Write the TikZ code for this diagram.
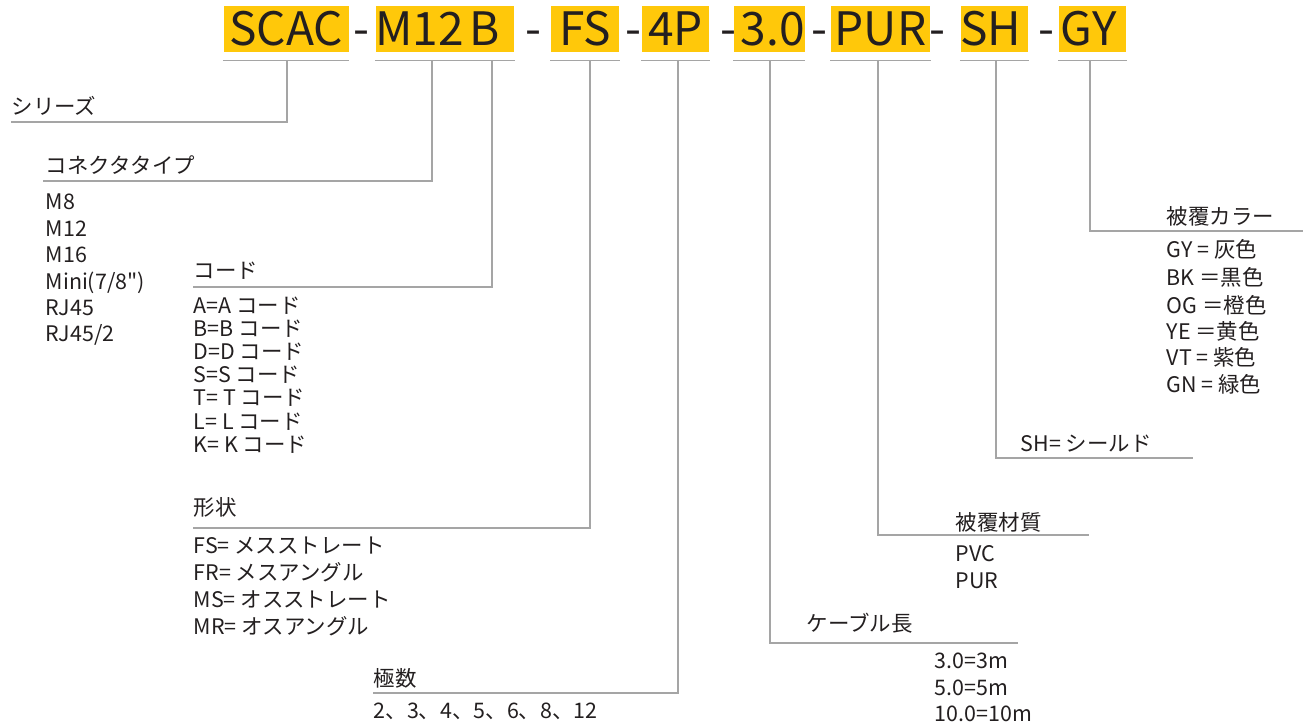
\documentclass[tikz,border=0pt]{standalone}
\usepackage{fontspec}
\setmainfont[Ligatures=TeXOff]{Noto Sans CJK JP}
\usetikzlibrary{calc}
\definecolor{code_yellow}{RGB}{255, 200, 10}
\definecolor{line_grey}{RGB}{165, 165, 165}
\definecolor{txt_dark}{RGB}{35, 31, 32}
\tikzstyle{code}=[rectangle,fill=code_yellow,inner sep=0pt,minimum height=0.46cm,
  text=txt_dark,font=\fontsize{13.1}{13.1}\selectfont,text height=9.4pt,text depth=0pt]
\tikzstyle{hyph}=[inner sep=0pt,anchor=base,text=txt_dark,
  font=\fontsize{13.1}{13.1}\selectfont]
\tikzstyle{lbl}=[inner sep=0pt,anchor=base west,text=txt_dark,
  font=\fontsize{6.1}{6.1}\selectfont]
\tikzstyle{wire}=[draw=line_grey,line width=0.42pt]
\tikzstyle{none}=[]

\begin{document}
\begin{tikzpicture}
		\useasboundingbox (0, 0) rectangle (13.11, -7.28);
		% part number
		\node [style=code, minimum width=1.25cm] (0) at (2.861, -0.29) {SCAC};
		\node [style=code, minimum width=0.897cm] (1) at (4.2375, -0.29) {M12\kern0.08cm};
		\node [style=code, minimum width=0.418cm] (2) at (4.92, -0.29) {B\kern0.14cm};
		\node [style=code, minimum width=0.68cm] (3) at (5.85, -0.29) {FS};
		\node [style=code, minimum width=0.672cm] (4) at (6.757, -0.29) {4P};
		\node [style=code, minimum width=0.683cm] (5) at (7.692, -0.29) {\kern0.07cm3.0};
		\node [style=code, minimum width=0.99cm] (6) at (8.805, -0.29) {PUR};
		\node [style=code, minimum width=0.67cm] (7) at (9.945, -0.29) {SH\kern0.07cm};
		\node [style=code, minimum width=0.67cm] (8) at (10.925, -0.29) {GY\kern0.08cm};
		\node [style=hyph] (9) at (3.618, -0.455) {-};
		\node [style=hyph] (10) at (5.33, -0.455) {-};
		\node [style=hyph] (11) at (6.33, -0.455) {-};
		\node [style=hyph] (12) at (7.28, -0.455) {-};
		\node [style=hyph] (13) at (8.19, -0.455) {-};
		\node [style=hyph] (14) at (9.37, -0.455) {-};
		\node [style=hyph] (15) at (10.46, -0.455) {-};
		% headings
		\node [style=lbl] (20) at (0.11, -1.15) {シリーズ};
		\node [style=lbl] (21) at (0.45, -1.735) {コネクタタイプ};
		\node [style=lbl] (22) at (1.93, -2.785) {コード};
		\node [style=lbl] (23) at (1.93, -5.155) {形状};
		\node [style=lbl] (24) at (3.73, -6.865) {極数};
		\node [style=lbl] (25) at (8.06, -6.315) {ケーブル長};
		\node [style=lbl] (26) at (9.55, -5.30) {被覆材質};
		\node [style=lbl] (27) at (10.20, -4.515) {SH= シールド};
		\node [style=lbl] (28) at (11.66, -2.25) {被覆カラー};
		% connector type
		\node [style=lbl] (30) at (0.45, -2.10) {M8};
		\node [style=lbl] (31) at (0.45, -2.364) {M12};
		\node [style=lbl] (32) at (0.45, -2.628) {M16};
		\node [style=lbl] (33) at (0.45, -2.892) {Mini(7/8")};
		\node [style=lbl] (34) at (0.45, -3.156) {RJ45};
		\node [style=lbl] (35) at (0.45, -3.42) {RJ45/2};
		% coding
		\node [style=lbl] (40) at (1.93, -3.13) {A=A コード};
		\node [style=lbl] (41) at (1.93, -3.362) {B=B コード};
		\node [style=lbl] (42) at (1.93, -3.594) {D=D コード};
		\node [style=lbl] (43) at (1.93, -3.826) {S=S コード};
		\node [style=lbl] (44) at (1.93, -4.058) {T= T コード};
		\node [style=lbl] (45) at (1.93, -4.29) {L= L コード};
		\node [style=lbl] (46) at (1.93, -4.522) {K= K コード};
		% shape
		\node [style=lbl] (50) at (1.93, -5.53) {FS= メスストレート};
		\node [style=lbl] (51) at (1.93, -5.80) {FR= メスアングル};
		\node [style=lbl] (52) at (1.93, -6.07) {MS= オスストレート};
		\node [style=lbl] (53) at (1.93, -6.34) {MR= オスアングル};
		% poles
		\node [style=lbl] (60) at (3.73, -7.18) {2、3、4、5、6、8、12};
		% cable length
		\node [style=lbl] (70) at (9.34, -6.68) {3.0=3m};
		\node [style=lbl] (71) at (9.34, -6.95) {5.0=5m};
		\node [style=lbl] (72) at (9.34, -7.217) {10.0=10m};
		% jacket material
		\node [style=lbl] (80) at (9.55, -5.615) {PVC};
		\node [style=lbl] (81) at (9.55, -5.88) {PUR};
		% jacket colour
		\node [style=lbl] (90) at (11.66, -2.58) {GY = 灰色};
		\node [style=lbl] (91) at (11.66, -2.86) {BK ＝黒色};
		\node [style=lbl] (92) at (11.66, -3.13) {OG ＝橙色};
		\node [style=lbl] (93) at (11.66, -3.39) {YE ＝黄色};
		\node [style=lbl] (94) at (11.66, -3.66) {VT = 紫色};
		\node [style=lbl] (95) at (11.66, -3.925) {GN = 緑色};
		% line ends
		\coordinate (100) at (2.87, -0.60);
		\coordinate (101) at (4.32, -0.60);
		\coordinate (102) at (4.92, -0.60);
		\coordinate (103) at (5.90, -0.60);
		\coordinate (104) at (6.78, -0.60);
		\coordinate (105) at (7.70, -0.60);
		\coordinate (106) at (8.78, -0.60);
		\coordinate (107) at (9.96, -0.60);
		\coordinate (108) at (10.90, -0.60);
		\coordinate (110) at (0.11, -1.22);
		\coordinate (111) at (0.43, -1.81);
		\coordinate (112) at (1.93, -2.87);
		\coordinate (113) at (1.93, -5.28);
		\coordinate (114) at (3.73, -6.93);
		\coordinate (115) at (10.18, -6.43);
		\coordinate (116) at (10.89, -5.35);
		\coordinate (117) at (11.93, -4.58);
		\coordinate (118) at (13.03, -2.31);
		\foreach \n in {0,...,8}
			\draw [style=wire] ($(\n.south west)+(0,-0.08)$) to ($(\n.south east)+(0,-0.08)$);
		\draw [style=wire] (100) |- (110);
		\draw [style=wire] (101) |- (111);
		\draw [style=wire] (102) |- (112);
		\draw [style=wire] (103) |- (113);
		\draw [style=wire] (104) |- (114);
		\draw [style=wire] (105) |- (115);
		\draw [style=wire] (106) |- (116);
		\draw [style=wire] (107) |- (117);
		\draw [style=wire] (108) |- (118);
\end{tikzpicture}
\end{document}
